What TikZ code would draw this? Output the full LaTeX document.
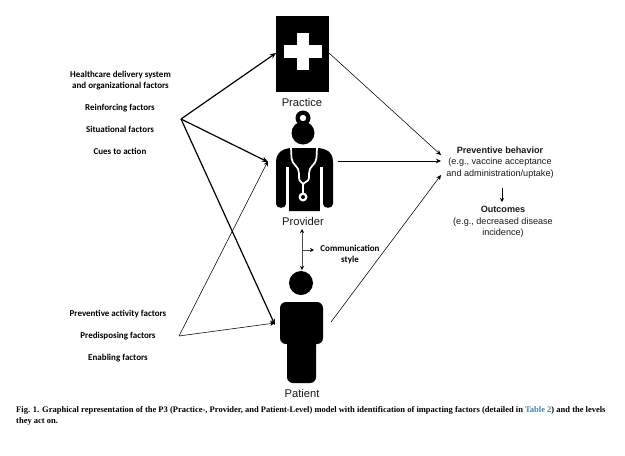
\documentclass[tikz,border=0pt]{standalone}
\usepackage{fontspec}
\setmainfont{Liberation Sans}
\newfontfamily\lblfont{Carlito}
\newfontfamily\capfont{Liberation Serif}
\usetikzlibrary{arrows.meta}
\definecolor{tablink}{RGB}{70,130,170}
\tikzset{
  factor/.style={font=\lblfont\bfseries\fontsize{9}{11.5}\selectfont,align=center,inner sep=0pt,text=black},
  desc/.style={font=\fontsize{9.1}{11.4}\selectfont,align=center,inner sep=0pt,text=black!90},
  lvl/.style={font=\fontsize{11.2}{13}\selectfont,inner sep=0pt,text=black!90},
  thick arrow/.style={line width=1.2pt,-{Stealth[length=6pt,width=5pt]}},
  thin arrow/.style={line width=0.55pt,-{Stealth[length=5pt,width=4.5pt]}},
  captext/.style={font=\capfont\bfseries\fontsize{8.5}{10}\selectfont,anchor=west,inner sep=0pt}
}
\begin{document}
\begin{tikzpicture}[x=1pt,y=-1pt]
\useasboundingbox[fill=white] (0,0) rectangle (625,456);
% Practice icon
\fill (276,16) rectangle (329,92);
\fill[white] (297,33) rectangle (309,70);
\fill[white] (284,45) rectangle (322,58);
\node[lvl] (practice) at (302,102) {Practice};
% Provider icon
\fill (303,118) circle (7.5);
\fill[white] (303,118) circle (3.2);
\fill (303,133) circle (11.5);
\fill (276,204) -- (276,162) .. controls (276,152) and (284,148) .. (292,148) -- (316,148) .. controls (326,148) and (333,152) .. (333,162) -- (333,204) .. controls (333,209) and (323,209) .. (323,204) -- (323,170) -- (320,170) -- (320,211) -- (288,211) -- (288,170) -- (286,170) -- (286,204) .. controls (286,209) and (276,209) .. (276,204) -- cycle;
\fill[white] (286,167) rectangle (288.5,211);
\fill[white] (319.5,167) rectangle (322.5,211);
\draw[white,line width=1.7pt] (291,148) -- (291.5,158) .. controls (292,165) and (299,166) .. (299,173) -- (299,178) .. controls (299,182) and (303,182) .. (303,185);
\draw[white,line width=1.7pt] (317,148) -- (316.5,158) .. controls (316,165) and (309,166) .. (309,173) -- (309,178) .. controls (309,182) and (303,182) .. (303,185) -- (303,193);
\fill[white] (303,197) circle (4.5);
\fill (303,197) circle (2);
\node[lvl] (provider) at (303,221) {Provider};
% Patient icon
\fill (301,283) circle (12);
\fill[rounded corners=6pt] (280,302) rectangle (323,344);
\fill[rounded corners=6pt] (287,330) rectangle (316,383);
\node[lvl] (patient) at (302,393) {Patient};
% Left labels
\node[factor] (health) at (120.5,80.5) {Healthcare delivery system\\and organizational factors};
\node[factor] (reinf) at (120,108) {Reinforcing factors};
\node[factor] (situ) at (120,129) {Situational factors};
\node[factor] (cues) at (120,151) {Cues to action};
\node[factor] (prevact) at (118,314) {Preventive activity factors};
\node[factor] (predis) at (118,336) {Predisposing factors};
\node[factor] (enabl) at (118,358) {Enabling factors};
% Right labels
\node[desc] (behav) at (500,162.5) {\textbf{Preventive behavior}\\(e.g., vaccine acceptance\\and administration/uptake)};
\node[desc] (outc) at (503,222) {\textbf{Outcomes}\\(e.g., decreased disease\\incidence)};
\node[font=\lblfont\bfseries\fontsize{9}{11}\selectfont,align=center,inner sep=0pt] (comm) at (350,255) {Communication\\style};
% Free ends
\coordinate (hubA) at (181,119);
\coordinate (hubB) at (179,336);
\coordinate (pracIn) at (276,53);
\coordinate (provIn) at (268,162);
\coordinate (patIn) at (275,325);
\coordinate (provInB) at (268,161);
\coordinate (patInB) at (275,323);
\coordinate (pracOut) at (329,53);
\coordinate (provOut) at (338,161);
\coordinate (patOut) at (331,322);
\coordinate (behIn1) at (441,155);
\coordinate (behIn2) at (441,161);
\coordinate (behIn3) at (441,175);
\coordinate (commTop) at (302,229);
\coordinate (commBot) at (302,270);
\coordinate (commMid) at (302,250);
\coordinate (downTop) at (502,188);
\coordinate (downEnd) at (502,202);
\coordinate (commEnd) at (314,250);
% Connectors
\draw[thick arrow] (hubA) -- (pracIn);
\draw[thick arrow] (hubA) -- (provIn);
\draw[thick arrow] (hubA) -- (patIn);
\draw[thin arrow] (hubB) -- (provInB);
\draw[thin arrow] (hubB) -- (patInB);
\draw[thin arrow] (pracOut) -- (behIn1);
\draw[thin arrow] (provOut) -- (behIn2);
\draw[thin arrow] (patOut) -- (behIn3);
\draw[line width=0.5pt,black!70,{Stealth[length=4pt,width=4pt,black]}-{Stealth[length=4pt,width=4pt,black]}] (commTop) -- (commBot);
\draw[line width=0.5pt,black!70,-{Stealth[length=4pt,width=4pt,black]}] (commMid) -- (commEnd);
\draw[line width=0.8pt,-{Stealth[length=4pt,width=4pt]}] (downTop) -- (downEnd);
% Caption
\node[captext] (c1) at (16,410.5) {Fig. 1. Graphical representation of the P3 (Practice-, Provider, and Patient-Level) model with identification of impacting factors (detailed in \textcolor{tablink}{Table 2}) and the levels};
\node[captext] (c2) at (16,421.5) {they act on.};
\end{tikzpicture}
\end{document}
